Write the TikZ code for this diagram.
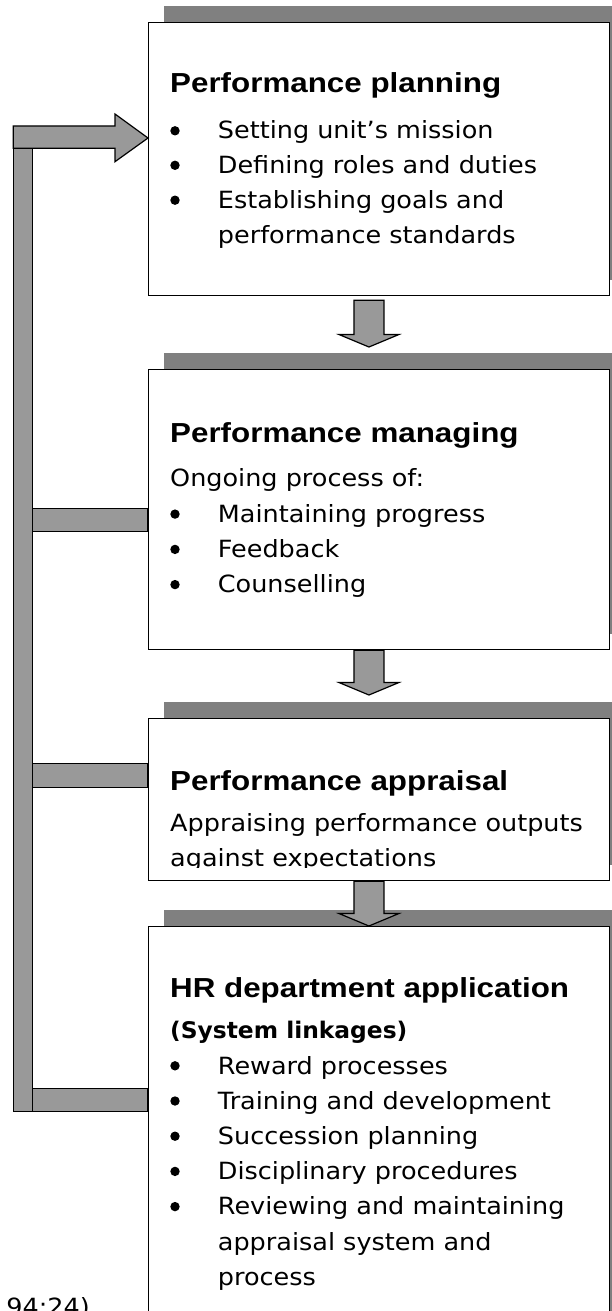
\documentclass[tikz,border=0pt]{standalone}
\usepackage{fontspec}
\usetikzlibrary{calc}
\newfontfamily\headfont{Liberation Sans}[FakeStretch=1.14]
\newfontfamily\bodyfont{DejaVu Sans}[FakeStretch=1.076]
\newfontfamily\subfont{DejaVu Sans}[FakeStretch=1.02]
\definecolor{shadowgray}{HTML}{808080}
\definecolor{arrowgray}{HTML}{999999}
\pgfdeclarelayer{bg}
\pgfsetlayers{bg,main}

% block arrow from the bottom of one stage to the top of the next
% #1 source, #2 target, #3 gap below source, #4 gap above target
\newcommand\flowdown[4]{%
  \draw[flowshape]
    ($(#1.south)+(-25,#3)$) -- ($(#1.south)+(5,#3)$)
    -- ($(#2.north)+(5,-#4-12.5)$) -- ($(#2.north)+(20,-#4-12.5)$)
    -- ($(#2.north)+(-10,-#4)$) -- ($(#2.north)+(-40,-#4-12.5)$)
    -- ($(#2.north)+(-25,-#4-12.5)$) -- cycle;}

\begin{document}
\begin{tikzpicture}[x=1pt,y=-1pt,
  stage/.style={draw=black, line width=1.2pt, fill=white, rectangle,
    minimum width=460.7pt, inner sep=0pt, anchor=north west},
  flowshape/.style={draw=black, line width=1.2pt, fill=arrowgray, line join=miter},
  head/.style={anchor=base west, inner sep=0pt,
    font=\headfont\bfseries\fontsize{27.5}{30}\selectfont},
  body/.style={anchor=base west, inner sep=0pt,
    font=\bodyfont\fontsize{23.7}{28}\selectfont},
  sub/.style={anchor=base west, inner sep=0pt,
    font=\subfont\bfseries\fontsize{22.9}{27}\selectfont},
  dot/.style={fill=black},
]
\useasboundingbox (0,0) rectangle (611,1311);
\clip (0,0) rectangle (611,1311);

% stage boxes
\node[stage, minimum height=273pt]   (p1) at (148,22)    {};
\node[stage, minimum height=280pt]   (p2) at (148,369)   {};
\node[stage, minimum height=162.5pt] (p3) at (148,717.5) {};
\node[stage, minimum height=420pt]   (p4) at (148,926)   {};

% drop shadows behind the boxes
\begin{pgfonlayer}{bg}
  \foreach \p in {p1,p2,p3,p4}
    \fill[shadowgray] ($(\p.north west)+(16,-16)$) rectangle ($(\p.south east)+(16,-16)$);
\end{pgfonlayer}

% arrows between stages
\flowdown{p1}{p2}{4}{22}
\flowdown{p2}{p3}{0}{22.5}
\flowdown{p3}{p4}{0}{0}

% feedback loop on the left
\coordinate (loopin) at ($(p1.north west)+(0,116)$);
\draw[flowshape] (13.3,148.3) rectangle (32.7,1111.7);
\draw[flowshape] (32.7,508.3)  rectangle ($(p2.north west)+(0,162.7)$);
\draw[flowshape] (32.7,763.3)  rectangle ($(p3.north west)+(0,69.8)$);
\draw[flowshape] (32.7,1088.3) rectangle ($(p4.north west)+(0,185.7)$);
\draw[flowshape] (13.3,126) -- (115,126) -- (115,114) -- (loopin)
  -- (115,161.7) -- (115,148.3) -- (13.3,148.3) -- cycle;

% stage 1
\node[head] (h1) at (170,93) {Performance planning};
\foreach \y/\t [count=\i] in {139/{Setting unit’s mission},
    173.5/{Defining roles and duties}, 208.4/{Establishing goals and}} {
  \fill[dot] (175,\y-8.2) circle (4.7pt);
  \node[body] (b1\i) at (217.7,\y) {\t};
}
\node[body] (b1c) at (217.7,243.1) {performance standards};

% stage 2
\node[head] (h2) at (170,442.5) {Performance managing};
\node[body] (i2) at (170,486) {Ongoing process of:};
\foreach \y/\t [count=\i] in {522.3/{Maintaining progress},
    557.6/{Feedback}, 592.8/{Counselling}} {
  \fill[dot] (175,\y-8.2) circle (4.7pt);
  \node[body] (b2\i) at (217.7,\y) {\t};
}

% stage 3
\node[head] (h3) at (170,790) {Performance appraisal};
\node[body] (i3) at (170,831.5) {Appraising performance outputs};
\begin{scope}
  \clip (148,840) rectangle (608,867.7);
  \node[body] (i3b) at (170,866.7) {against expectations};
\end{scope}

% stage 4
\node[head] (h4) at (170,997.3) {HR department application};
\node[sub] (s4) at (170,1038.3) {(System linkages)};
\foreach \y/\t [count=\i] in {1074/{Reward processes},
    1109.2/{Training and development}, 1144.4/{Succession planning},
    1179.6/{Disciplinary procedures}, 1214.8/{Reviewing and maintaining}} {
  \fill[dot] (175,\y-8.2) circle (4.7pt);
  \node[body] (b4\i) at (217.7,\y) {\t};
}
\node[body] (b4c) at (217.7,1250) {appraisal system and};
\node[body] (b4d) at (217.7,1285.2) {process};

% source reference
\node[body, anchor=base east] (src) at (90,1315) {94:24)};
\end{tikzpicture}
\end{document}
